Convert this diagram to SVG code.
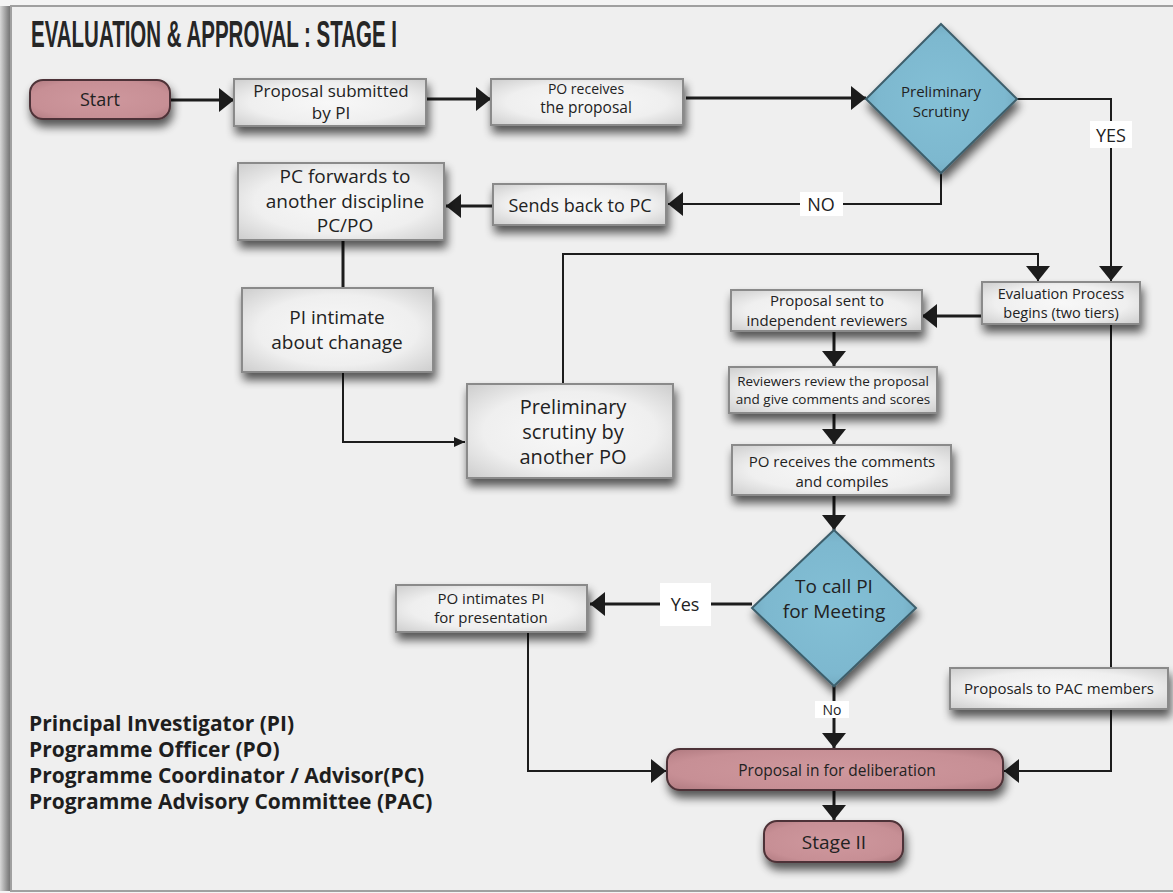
<svg xmlns="http://www.w3.org/2000/svg" width="1173" height="893" viewBox="0 0 1173 893">
  <defs>
    <style>
      .box { fill: url(#gBox); stroke: #8a8a8a; stroke-width: 2; filter: url(#shadow); }
      .pill { fill: url(#gPink); stroke: #4e3337; stroke-width: 2; filter: url(#shadow); }
      .dia { fill: url(#gBlue); stroke: #3e5f6c; stroke-width: 2; filter: url(#shadow); }
      .t { font-family: "Open Sans", "Liberation Sans", Arial, sans-serif; fill: #222; text-anchor: middle; }
      .lg { font-family: "Open Sans", "Liberation Sans", Arial, sans-serif; font-weight: bold; fill: #1e1e1e; font-size: 21px; }
      .ln { fill: none; stroke: #1c1c1c; stroke-width: 3; }
      .thin { fill: none; stroke: #1c1c1c; stroke-width: 2; }
      .lbl { fill: #ffffff; }
    </style>
    <radialGradient id="gBox" cx="50%" cy="50%" r="70%">
      <stop offset="0" stop-color="#f8f8f8"/>
      <stop offset="0.6" stop-color="#efefef"/>
      <stop offset="1" stop-color="#cdcdcd"/>
    </radialGradient>
    <radialGradient id="gPink" cx="50%" cy="50%" r="70%">
      <stop offset="0" stop-color="#cf989e"/>
      <stop offset="0.7" stop-color="#c78f95"/>
      <stop offset="1" stop-color="#b07a80"/>
    </radialGradient>
    <radialGradient id="gBlue" cx="50%" cy="50%" r="60%">
      <stop offset="0" stop-color="#84c0d6"/>
      <stop offset="0.7" stop-color="#7db8cf"/>
      <stop offset="1" stop-color="#6aa0b5"/>
    </radialGradient>
    <linearGradient id="gLeft" x1="0" y1="0" x2="1" y2="0">
      <stop offset="0" stop-color="#d8d8d8"/>
      <stop offset="0.7" stop-color="#8a8a8a"/>
      <stop offset="1" stop-color="#6e6e6e"/>
    </linearGradient>
    <filter id="shadow" x="-20%" y="-30%" width="140%" height="180%">
      <feGaussianBlur in="SourceAlpha" stdDeviation="5"/>
      <feOffset dx="2" dy="7" result="b"/>
      <feComponentTransfer><feFuncA type="linear" slope="0.65"/></feComponentTransfer>
      <feMerge><feMergeNode/><feMergeNode in="SourceGraphic"/></feMerge>
    </filter>
    <marker id="ah" markerUnits="userSpaceOnUse" markerWidth="16" markerHeight="26" refX="15" refY="13" orient="auto">
      <path d="M0,1 L15,13 L0,25 Z" fill="#1c1c1c"/>
    </marker>
    <marker id="ahs" markerUnits="userSpaceOnUse" markerWidth="12" markerHeight="12" refX="11" refY="6" orient="auto">
      <path d="M0,1 L11,6 L0,11 Z" fill="#1c1c1c"/>
    </marker>
  </defs>

  <!-- page frame -->
  <rect x="0" y="0" width="1173" height="893" fill="#f4f4f4"/>
  <rect x="0" y="6" width="11" height="885" fill="url(#gLeft)"/>
  <rect x="11" y="6" width="1170" height="885" fill="#efefef" stroke="#a0a0a0" stroke-width="2"/>

  <text x="31" y="47" font-family="Liberation Sans, Arial, sans-serif" font-weight="bold" font-size="36" fill="#262626" textLength="366" lengthAdjust="spacingAndGlyphs">EVALUATION &amp; APPROVAL : STAGE I</text>

  <!-- connectors -->
  <g id="connectors">
    <line class="ln" x1="170" y1="100" x2="234" y2="100" marker-end="url(#ah)"/>
    <line class="ln" x1="426" y1="99" x2="491" y2="99" marker-end="url(#ah)"/>
    <line class="ln" x1="686" y1="98" x2="866" y2="98" marker-end="url(#ah)"/>
    <polyline class="thin" points="1017,99 1111,99 1111,281" marker-end="url(#ah)"/>
    <polyline class="thin" points="941,173 941,204 668,204" marker-end="url(#ah)"/>
    <line class="ln" x1="493" y1="206" x2="446" y2="206" marker-end="url(#ah)"/>
    <line class="ln" x1="343" y1="240" x2="343" y2="288"/>
    <polyline class="thin" points="343,372 343,442 465,442" marker-end="url(#ahs)"/>
    <polyline class="thin" points="563,384 563,254 1038,254 1038,281" marker-end="url(#ah)"/>
    <line class="ln" x1="982" y1="316" x2="922" y2="316" marker-end="url(#ah)"/>
    <line class="ln" x1="834" y1="331" x2="834" y2="366" marker-end="url(#ah)"/>
    <line class="ln" x1="834" y1="413" x2="834" y2="444" marker-end="url(#ah)"/>
    <line class="ln" x1="834" y1="495" x2="834" y2="530" marker-end="url(#ah)"/>
    <line class="ln" x1="752" y1="604" x2="590" y2="604" marker-end="url(#ah)"/>
    <line class="ln" x1="834" y1="686" x2="834" y2="748" marker-end="url(#ah)"/>
    <polyline class="thin" points="1111,324 1111,771 1004,771" marker-end="url(#ah)"/>
    <polyline class="thin" points="528,632 528,771 666,771" marker-end="url(#ah)"/>
    <line class="ln" x1="834" y1="790" x2="834" y2="820" marker-end="url(#ah)"/>
    <!-- branch labels -->
    <rect class="lbl" x="1090" y="121" width="42" height="27"/>
    <text class="t" x="1111" y="142" font-size="18">YES</text>
    <rect class="lbl" x="800" y="192" width="43" height="24"/>
    <text class="t" x="821" y="211" font-size="18">NO</text>
    <rect class="lbl" x="660" y="583" width="51" height="43"/>
    <text class="t" x="685" y="611" font-size="18">Yes</text>
    <rect class="lbl" x="815" y="701" width="34" height="17"/>
    <text class="t" x="832" y="715" font-size="14">No</text>
  </g>

  <g id="start">
    <rect class="pill" x="30" y="80" width="140" height="39" rx="13"/>
    <text class="t" x="100" y="106" font-size="18">Start</text>
  </g>
  <g id="submitted">
    <rect class="box" x="234" y="79" width="192" height="47"/>
    <text class="t" font-size="17"><tspan x="331" y="97">Proposal submitted</tspan><tspan x="331" y="119">by  PI</tspan></text>
  </g>
  <g id="po-receives">
    <rect class="box" x="491" y="79" width="192" height="46"/>
    <text class="t"><tspan x="586" y="94" font-size="14">PO receives</tspan><tspan x="586" y="113" font-size="15.5">the proposal</tspan></text>
  </g>
  <g id="prelim-scrutiny">
    <polygon class="dia" points="941,24 1017,99 941,173 866,99"/>
    <text class="t" font-size="15"><tspan x="941" y="97">Preliminary</tspan><tspan x="941" y="117">Scrutiny</tspan></text>
  </g>
  <g id="sends-back">
    <rect class="box" x="493" y="184" width="173" height="41"/>
    <text class="t" x="580" y="212" font-size="18">Sends back to PC</text>
  </g>
  <g id="pc-forwards">
    <rect class="box" x="238" y="163" width="206" height="77"/>
    <text class="t" font-size="19"><tspan x="345" y="183">PC forwards to</tspan><tspan x="345" y="208">another discipline</tspan><tspan x="345" y="232">PC/PO</tspan></text>
  </g>
  <g id="pi-intimate">
    <rect class="box" x="242" y="288" width="191" height="84"/>
    <text class="t" font-size="19"><tspan x="337" y="324">PI intimate</tspan><tspan x="337" y="349">about chanage</tspan></text>
  </g>
  <g id="scrutiny-another-po">
    <rect class="box" x="467" y="384" width="206" height="94"/>
    <text class="t" font-size="20"><tspan x="573" y="414">Preliminary</tspan><tspan x="573" y="439">scrutiny by</tspan><tspan x="573" y="464">another PO</tspan></text>
  </g>
  <g id="evaluation">
    <rect class="box" x="982" y="282" width="158" height="42"/>
    <text class="t" font-size="14.5"><tspan x="1061" y="299">Evaluation Process</tspan><tspan x="1061" y="318">begins (two tiers)</tspan></text>
  </g>
  <g id="sent-reviewers">
    <rect class="box" x="731" y="290" width="191" height="41"/>
    <text class="t" font-size="15"><tspan x="827" y="306">Proposal sent to</tspan><tspan x="827" y="326">independent reviewers</tspan></text>
  </g>
  <g id="reviewers-review">
    <rect class="box" x="729" y="367" width="208" height="46"/>
    <text class="t" font-size="13.5"><tspan x="833" y="386">Reviewers review the proposal</tspan><tspan x="833" y="404">and give comments and scores</tspan></text>
  </g>
  <g id="po-compiles">
    <rect class="box" x="732" y="445" width="219" height="50"/>
    <text class="t" font-size="15"><tspan x="842" y="467">PO receives the comments</tspan><tspan x="842" y="487">and compiles</tspan></text>
  </g>
  <g id="call-pi">
    <polygon class="dia" points="834,530 916,608 834,686 752,608"/>
    <text class="t" font-size="19"><tspan x="834" y="593">To call PI</tspan><tspan x="834" y="618">for Meeting</tspan></text>
  </g>
  <g id="po-intimates">
    <rect class="box" x="396" y="585" width="191" height="47"/>
    <text class="t" font-size="15"><tspan x="491" y="604">PO intimates PI</tspan><tspan x="491" y="623">for presentation</tspan></text>
  </g>
  <g id="pac-members">
    <rect class="box" x="950" y="668" width="218" height="41"/>
    <text class="t" x="1059" y="694" font-size="15">Proposals to PAC members</text>
  </g>
  <g id="deliberation">
    <rect class="pill" x="667" y="749" width="336" height="41" rx="13"/>
    <text class="t" x="837" y="776" font-size="15.5">Proposal in for deliberation</text>
  </g>
  <g id="stage-two">
    <rect class="pill" x="764" y="821" width="139" height="41" rx="13"/>
    <text class="t" x="834" y="849" font-size="19">Stage II</text>
  </g>

  <g id="legend">
    <text class="lg"><tspan x="29" y="731">Principal Investigator (PI)</tspan><tspan x="29" y="757">Programme Officer (PO)</tspan><tspan x="29" y="783">Programme Coordinator / Advisor(PC)</tspan><tspan x="29" y="809">Programme Advisory Committee (PAC)</tspan></text>
  </g>
</svg>
